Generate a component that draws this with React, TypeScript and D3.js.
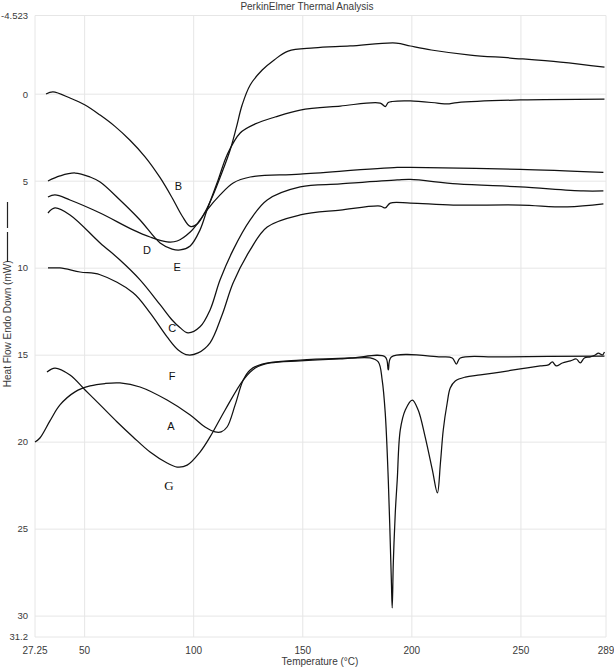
import * as d3 from "d3";

type Pt = [number, number];

// temperature (°C), heat flow (mW)
const xTicks = [27.25, 50, 100, 150, 200, 250, 289];
const yTicks = [-4.523, 0, 5, 10, 15, 20, 25, 30, 31.2];
const yTickLabels = ["-4.523", "0", "5", "10", "15", "20", "25", "30", "31.2"];

const curveB: Pt[] = [
  [32.3, -0.01], [35.5, -0.13], [43.3, 0.22], [50.2, 0.62], [57.1, 1.2], [63.9, 1.85],
  [70.8, 2.65], [77.7, 3.6], [84.6, 4.8], [90.1, 5.95], [94.7, 7.0], [98.4, 7.6],
  [101.6, 7.46], [105.2, 6.77], [108.9, 5.79], [113.0, 4.49], [116.7, 3.21], [119.5, 1.94],
  [122.2, 0.62], [125.9, -0.53], [131.4, -1.39], [136.9, -1.97], [143.3, -2.48], [155.2, -2.66],
  [171.7, -2.77], [192.8, -2.94], [199.3, -2.77], [208.9, -2.54], [226.8, -2.25], [245.1, -2.08],
  [268.1, -1.85], [288.3, -1.56],
];
const curveD: Pt[] = [
  [33.2, 4.99], [38.7, 4.7], [45.6, 4.53], [52.5, 4.76], [57.1, 5.05], [66.2, 6.08],
  [75.4, 7.23], [84.6, 8.55], [90.1, 8.9], [93.8, 8.95], [98.4, 8.72], [102.9, 7.8],
  [106.1, 6.66], [111.2, 4.93], [115.3, 3.49], [121.3, 2.23], [128.2, 1.71], [137.3, 1.31],
  [148.8, 0.91], [167.2, 0.68], [185.5, 0.51], [187.8, 0.71], [189.2, 0.48], [191.0, 0.42],
  [199.3, 0.39], [211.7, 0.51], [216.2, 0.56], [220.8, 0.48], [249.7, 0.33], [288.3, 0.28],
];
const curveE: Pt[] = [
  [33.2, 5.91], [36.4, 5.79], [43.3, 6.08], [57.1, 6.83], [72.2, 7.8], [80.0, 8.21],
  [87.8, 8.49], [92.4, 8.44], [98.4, 7.92], [102.9, 7.23], [106.1, 6.66], [112.1, 5.79],
  [118.1, 5.1], [125.9, 4.76], [148.8, 4.59], [193.3, 4.21], [199.3, 4.21], [249.7, 4.32],
  [287.8, 4.49],
];
const curveC: Pt[] = [
  [33.2, 6.83], [36.4, 6.54], [43.3, 6.94], [57.1, 8.55], [66.2, 9.53], [75.4, 10.67],
  [84.6, 12.1], [90.1, 12.98], [93.8, 13.43], [97.4, 13.72], [102.9, 13.37], [107.5, 12.4],
  [112.1, 10.67], [118.1, 8.95], [125.9, 7.23], [133.7, 6.08], [148.8, 5.33], [167.2, 5.16],
  [193.3, 4.93], [199.3, 4.9], [220.8, 5.16], [249.7, 5.33], [278.6, 5.56], [287.8, 5.56],
];
const curveF: Pt[] = [
  [33.2, 9.99], [38.7, 9.99], [47.9, 10.22], [57.1, 10.38], [72.2, 11.41], [80.0, 12.57],
  [87.8, 13.95], [92.9, 14.7], [97.4, 14.99], [102.0, 14.87], [107.5, 14.29], [113.0, 12.69],
  [118.1, 10.84], [125.9, 8.95], [133.7, 7.63], [148.8, 6.94], [167.2, 6.66], [185.5, 6.43],
  [187.8, 6.54], [190.1, 6.26], [199.3, 6.26], [219.0, 6.37], [249.7, 6.37], [271.3, 6.48],
  [287.8, 6.31],
];
const curveA: Pt[] = [
  [27.25, 19.99], [29.5, 19.76], [34.1, 18.78], [38.7, 17.86], [45.6, 17.11], [52.5, 16.77],
  [59.4, 16.63], [66.2, 16.6], [75.4, 16.83], [87.8, 17.58], [98.4, 18.44], [105.2, 19.13],
  [109.8, 19.41], [112.6, 19.41], [115.3, 19.13], [119.0, 17.86], [122.7, 16.43], [125.9, 15.85],
  [131.4, 15.51], [148.8, 15.28], [171.7, 15.16], [187.8, 15.1], [189.2, 15.85], [190.6, 15.1],
  [213.1, 15.1], [218.5, 15.16], [220.4, 15.51], [222.2, 15.16], [240.6, 15.1], [288.3, 15.05],
];
const curveG: Pt[] = [
  [32.75, 15.97], [36.4, 15.74], [43.3, 16.14], [50.2, 17.0], [57.1, 17.86], [64.9, 18.84],
  [72.2, 19.7], [80.0, 20.57], [87.8, 21.2], [92.4, 21.43], [97.0, 21.32], [102.9, 20.57],
  [107.5, 19.7], [114.4, 18.15], [122.7, 16.43], [128.2, 15.74], [135.0, 15.45], [148.8, 15.33],
  [167.2, 15.22], [180.9, 15.16], [184.6, 15.39], [186.4, 16.43], [187.8, 18.32], [189.2, 22.18],
  [190.6, 27.92], [191.0, 29.53], [191.5, 26.94], [192.4, 24.07], [193.3, 22.18], [194.7, 19.3],
  [197.0, 18.15], [200.2, 17.58], [202.9, 18.15], [206.1, 19.7], [209.4, 21.6], [211.7, 22.92],
  [213.1, 21.2], [214.4, 19.3], [216.2, 17.75], [217.6, 16.89], [219.9, 16.48], [224.5, 16.26],
  [231.4, 16.14], [240.6, 15.97], [249.7, 15.79], [258.9, 15.62], [262.6, 15.56], [264.4, 15.39],
  [266.2, 15.62], [269.0, 15.45], [272.7, 15.33], [275.4, 15.22], [277.2, 15.45], [279.1, 15.16],
  [281.8, 15.1], [284.1, 14.99], [285.5, 14.88], [287.3, 14.99], [288.3, 14.82],
];

const curves = [curveB, curveD, curveE, curveC, curveF, curveA, curveG];

const curveLabels = [
  { name: "B", t: 93.0, v: 5.3, serif: false },
  { name: "D", t: 78.6, v: 8.95, serif: false },
  { name: "E", t: 92.4, v: 9.93, serif: false },
  { name: "C", t: 90.1, v: 13.43, serif: false },
  { name: "F", t: 90.1, v: 16.2, serif: false },
  { name: "A", t: 89.6, v: 19.07, serif: false },
  { name: "G", t: 88.7, v: 22.5, serif: true },
];

const font = "'Liberation Sans', Arial, sans-serif";

export default function App() {
  const width = 614;
  const height = 667;
  const x = d3.scaleLinear().domain([27.25, 289]).range([35, 606]);
  const y = d3.scaleLinear().domain([-4.523, 31.2]).range([15.5, 637]);
  const line = d3
    .line<Pt>()
    .x((d) => x(d[0]))
    .y((d) => y(d[1]))
    .curve(d3.curveCatmullRom.alpha(0.5));
  const grid = "#e6e6e6";
  const ink = "#3a3a3a";

  return (
    <svg
      width={width}
      height={height}
      style={{ position: "absolute", left: 0, top: 0, background: "#fff" }}
      fontFamily={font}
    >
      {/* grid */}
      {yTicks.map((t) => (
        <line key={"gy" + t} x1={x(27.25)} x2={x(289)} y1={y(t)} y2={y(t)} stroke={grid} strokeWidth={1} />
      ))}
      {xTicks.map((t) => (
        <line key={"gx" + t} x1={x(t)} x2={x(t)} y1={y(-4.523)} y2={y(31.2)} stroke={grid} strokeWidth={1} />
      ))}

      {/* tick labels */}
      {yTicks.map((t, i) => (
        <text key={"ly" + t} x={28} y={y(t)} dy="0.35em" textAnchor="end" fontSize={9.5} fill={ink}>
          {yTickLabels[i]}
        </text>
      ))}
      {xTicks.map((t) => (
        <text key={"lx" + t} x={x(t)} y={654} textAnchor="middle" fontSize={10} fill={ink}>
          {String(t)}
        </text>
      ))}

      <text x={307} y={10} textAnchor="middle" fontSize={10} fill={ink}>
        PerkinElmer Thermal Analysis
      </text>
      <text x={320} y={665} textAnchor="middle" fontSize={10} fill={ink}>
        Temperature (°C)
      </text>
      <g transform={`translate(11, ${y(13.2)}) rotate(-90)`}>
        <text x={0} y={0} textAnchor="middle" fontSize={10} fill={ink}>
          Heat Flow Endo Down (mW)
        </text>
      </g>
      <line x1={7.5} x2={7.5} y1={202} y2={228} stroke="#222" strokeWidth={1.2} />
      <line x1={7.5} x2={7.5} y1={232} y2={262} stroke="#222" strokeWidth={1.2} />

      {/* curves */}
      {curves.map((c, i) => (
        <path key={"c" + i} d={line(c) ?? ""} fill="none" stroke="#111" strokeWidth={1.25} />
      ))}

      {curveLabels.map((l) => (
        <text
          key={l.name}
          x={x(l.t)}
          y={y(l.v)}
          dy="0.35em"
          textAnchor="middle"
          fontSize={l.serif ? 13 : 11}
          fontFamily={l.serif ? "'Liberation Serif', 'Times New Roman', serif" : font}
          fill="#111"
        >
          {l.name}
        </text>
      ))}
    </svg>
  );
}
